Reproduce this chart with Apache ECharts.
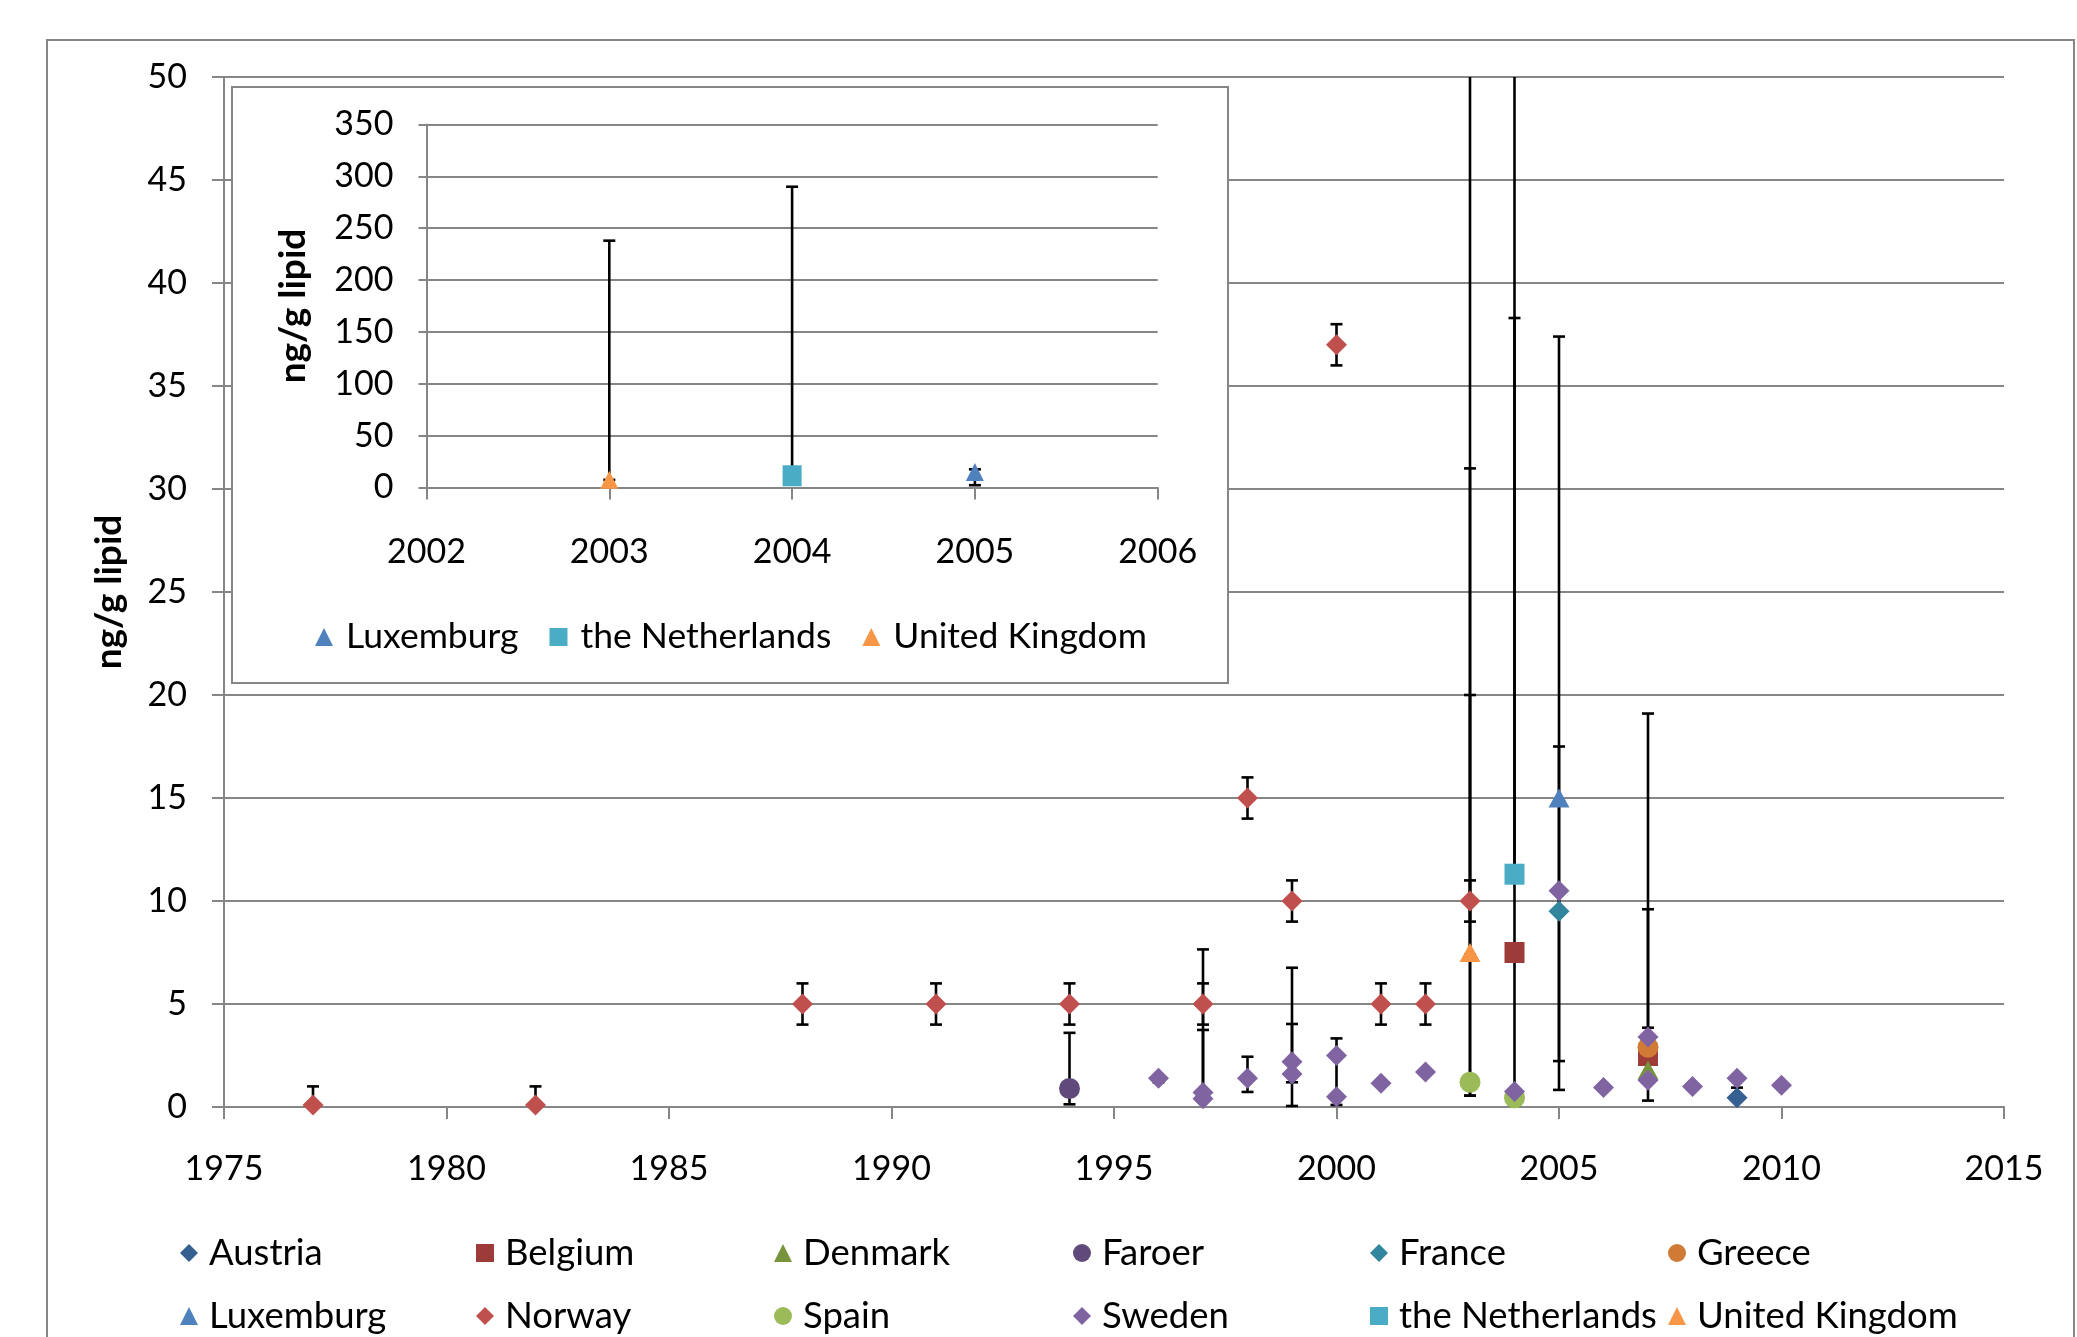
<!DOCTYPE html>
<html>
<head>
<meta charset="utf-8">
<title>ng/g lipid by country and year</title>
<script src="https://cdn.jsdelivr.net/npm/echarts@6/dist/echarts.min.js"></script>
<style>
  html, body { margin: 0; padding: 0; background: #ffffff; }
  #chart { width: 2077px; height: 1337px; }
</style>
</head>
<body>
<div id="chart"></div>
<script>
// Measured concentrations: [year, ng/g lipid]
const austria     = [[2009, 0.45]];
const belgium     = [[2004, 7.5], [2007, 2.5]];
const denmark     = [[2007, 1.8]];
const faroer      = [[1994, 0.9]];
const france      = [[2005, 9.5]];
const greece      = [[2007, 2.9]];
const luxemburg   = [[2005, 15]];
const norway      = [[1977, 0.1], [1982, 0.1], [1988, 5], [1991, 5], [1994, 5], [1997, 5],
                     [1998, 15], [1999, 10], [2000, 37], [2001, 5], [2002, 5], [2003, 10]];
const spain       = [[2003, 1.2], [2004, 0.45]];
const sweden      = [[1996, 1.4], [1997, 0.7], [1997, 0.4], [1998, 1.4], [1999, 2.2], [1999, 1.6],
                     [2000, 2.5], [2000, 0.5], [2001, 1.15], [2002, 1.7], [2004, 0.75], [2005, 10.5],
                     [2006, 0.95], [2007, 3.4], [2007, 1.3], [2008, 1.0], [2009, 1.4], [2010, 1.05]];
const netherlands = [[2004, 11.3]];
const unitedKingdom = [[2003, 7.5]];

// Ranges drawn as error bars: [year, low, high]
const errNorway = [[1977, 0.1, 1], [1982, 0.1, 1], [1988, 4, 6], [1991, 4, 6], [1994, 4, 6],
                   [1997, 4, 6], [1998, 14, 16], [1999, 9, 11], [2000, 36, 38], [2001, 4, 6],
                   [2002, 4, 6], [2003, 9, 11]];
const errFaroer = [[1994, 0.13, 3.6]];
const errSweden = [[1996, 1.2, 1.4], [1997, 0.7, 7.65], [1997, 0.34, 3.74], [1998, 0.73, 2.44],
                   [1999, 0.05, 6.76], [1999, 1.2, 4.03], [2000, 0.1, 3.33], [2007, 3.4, 3.85]];
const errSpain = [[2003, 0.55, 31], [2003, 0.55, 20]];
const errUnitedKingdom = [[2003, 7.4, 238]];
const errNetherlands = [[2004, 11.3, 290]];
const errBelgium = [[2004, 0.7, 38.3], [2007, 0.31, 19.1]];
const errLuxemburg = [[2005, 2.23, 17.5]];
const errFrance = [[2005, 0.83, 37.4]];
const errGreece = [[2007, 2.9, 9.6]];
const errAustria = [[2009, 0.45, 0.94]];

// Axis settings
const mainYears = { min: 1975, max: 2015, step: 5 };
const mainValues = { min: 0, max: 50, step: 5 };
const insetYears = { min: 2002, max: 2006, step: 1 };
const insetValues = { min: 0, max: 350, step: 50 };
const axisTitle = 'ng/g lipid';

const FONT = 'Lato';
const GRAY = '#868686';

const countries = [
  { name: 'Austria',         data: austria,       symbol: 'diamond',  color: '#376092' },
  { name: 'Belgium',         data: belgium,       symbol: 'rect',     color: '#9C3B38' },
  { name: 'Denmark',         data: denmark,       symbol: 'triangle', color: '#77933C' },
  { name: 'Faroer',          data: faroer,        symbol: 'circle',   color: '#604A7B' },
  { name: 'France',          data: france,        symbol: 'diamond',  color: '#31859C' },
  { name: 'Greece',          data: greece,        symbol: 'circle',   color: '#D07A35' },
  { name: 'Luxemburg',       data: luxemburg,     symbol: 'triangle', color: '#4F81BD' },
  { name: 'Norway',          data: norway,        symbol: 'diamond',  color: '#C0504D' },
  { name: 'Spain',           data: spain,         symbol: 'circle',   color: '#9BBB59' },
  { name: 'Sweden',          data: sweden,        symbol: 'diamond',  color: '#8064A2' },
  { name: 'the Netherlands', data: netherlands,   symbol: 'rect',     color: '#4BACC6' },
  { name: 'United Kingdom',  data: unitedKingdom, symbol: 'triangle', color: '#F79646' }
];

const mainErrors = [].concat(errNorway, errFaroer, errSweden, errSpain, errUnitedKingdom,
  errNetherlands, errBelgium, errLuxemburg, errFrance, errGreece, errAustria);
const insetErrors = [].concat(errUnitedKingdom, errNetherlands, errLuxemburg);
const insetNames = ['Luxemburg', 'the Netherlands', 'United Kingdom'];

// Vertical whisker with a short cap at each end, cut at the top of the plot area
function renderErrorBar(params, api) {
  const x = api.value(0);
  const lo = api.coord([x, api.value(1)]);
  const hi = api.coord([x, api.value(2)]);
  const top = params.coordSys.y;
  const bottom = params.coordSys.y + params.coordSys.height;
  const half = 6;
  const style = { stroke: '#000000', lineWidth: 2.6 };
  const children = [];
  const yHi = Math.max(hi[1], top);
  const yLo = Math.min(lo[1], bottom);
  children.push({ type: 'line', shape: { x1: lo[0], y1: yLo, x2: hi[0], y2: yHi }, style: style });
  if (hi[1] >= top) {
    children.push({ type: 'line', shape: { x1: hi[0] - half, y1: hi[1], x2: hi[0] + half, y2: hi[1] }, style: style });
  }
  if (lo[1] <= bottom) {
    children.push({ type: 'line', shape: { x1: lo[0] - half, y1: lo[1], x2: lo[0] + half, y2: lo[1] }, style: style });
  }
  return { type: 'group', children: children };
}

const labelStyle = { color: '#000000', fontFamily: FONT, fontSize: 34 };
const plainNumber = function (v) { return String(v); };

function valueAxis(range, extra) {
  return Object.assign({
    type: 'value', min: range.min, max: range.max, interval: range.step,
    axisLine: { show: true, lineStyle: { color: GRAY, width: 2 } },
    axisTick: { show: true, length: 12, lineStyle: { color: GRAY, width: 2 } },
    splitLine: { show: true, lineStyle: { color: GRAY, width: 2 } },
    axisLabel: Object.assign({ margin: 37, formatter: plainNumber }, labelStyle),
    nameTextStyle: { color: '#000000', fontFamily: FONT, fontSize: 37, fontWeight: 'bold' },
    name: axisTitle, nameLocation: 'middle', nameRotate: 90
  }, extra);
}

function yearAxis(range, extra) {
  return Object.assign({
    type: 'value', min: range.min, max: range.max, interval: range.step,
    axisLine: { show: true, onZero: false, lineStyle: { color: GRAY, width: 2 } },
    axisTick: { show: true, length: 12, lineStyle: { color: GRAY, width: 2 } },
    splitLine: { show: false },
    axisLabel: Object.assign({ margin: 45, formatter: plainNumber }, labelStyle)
  }, extra);
}

const series = [];
series.push({
  type: 'custom', name: 'errors-main', xAxisIndex: 0, yAxisIndex: 0,
  renderItem: renderErrorBar, data: mainErrors, z: 3, silent: true,
  encode: { x: 0, y: [1, 2] }
});
countries.forEach(function (c, i) {
  series.push({
    type: 'scatter', name: c.name, xAxisIndex: 0, yAxisIndex: 0,
    data: c.data, symbol: c.symbol,
    symbolSize: c.symbol === 'triangle' ? [21, 19] : (c.symbol === 'rect' ? [20, 21] : 21),
    itemStyle: { color: c.color, opacity: 1 }, z: 4 + i * 0.01
  });
});
series.push({
  type: 'custom', name: 'errors-inset', xAxisIndex: 1, yAxisIndex: 1,
  renderItem: renderErrorBar, data: insetErrors, z: 8, silent: true,
  encode: { x: 0, y: [1, 2] }
});
insetNames.forEach(function (n, i) {
  const c = countries.find(function (d) { return d.name === n; });
  series.push({
    type: 'scatter', name: c.name, xAxisIndex: 1, yAxisIndex: 1,
    data: c.data, symbol: c.symbol,
    symbolSize: c.symbol === 'triangle' ? [18, 18] : [19, 21],
    itemStyle: { color: c.color, opacity: 1 }, z: 9 + i * 0.01
  });
});

// Legend columns of two rows each
const legendColumns = [
  ['Austria', 'Luxemburg'], ['Belgium', 'Norway'], ['Denmark', 'Spain'],
  ['Faroer', 'Sweden'], ['France', 'the Netherlands'], ['Greece', 'United Kingdom']
];
const columnLeft = [180, 476, 774, 1073, 1370, 1668];
const legends = legendColumns.map(function (names, i) {
  return {
    orient: 'vertical', left: columnLeft[i], top: 1233, padding: 0,
    itemWidth: 18, itemHeight: 18, itemGap: 23,
    data: names.map(function (n) { return { name: n }; }),
    textStyle: { color: '#000000', fontFamily: FONT, fontSize: 36.5, lineHeight: 40, padding: [0, 0, 0, 6] },
    selectedMode: false
  };
});
legends.push({
  orient: 'horizontal', left: 315, top: 617, padding: 0,
  itemWidth: 18, itemHeight: 18, itemGap: 31,
  data: insetNames.map(function (n) { return { name: n }; }),
  textStyle: { color: '#000000', fontFamily: FONT, fontSize: 35.5, lineHeight: 40, padding: [0, 0, 0, 8] },
  selectedMode: false
});

const chart = echarts.init(document.getElementById('chart'), null, { renderer: 'canvas' });
chart.setOption({
  backgroundColor: '#ffffff',
  animation: false,
  textStyle: { fontFamily: FONT },
  grid: [
    { left: 224, right: 73, top: 77, bottom: 230 },
    { left: 426.5, right: 919.3, top: 124.5, bottom: 849.5 }
  ],
  xAxis: [
    yearAxis(mainYears, { gridIndex: 0, z: 0 }),
    yearAxis(insetYears, { gridIndex: 1, z: 5, axisLabel: Object.assign({ margin: 48, formatter: plainNumber }, labelStyle) })
  ],
  yAxis: [
    valueAxis(mainValues, { gridIndex: 0, z: 0, nameGap: 96 }),
    valueAxis(insetValues, { gridIndex: 1, z: 5, nameGap: 115,
      axisTick: { show: true, length: 8, lineStyle: { color: GRAY, width: 2 } },
      axisLabel: Object.assign({ margin: 33, formatter: plainNumber }, labelStyle) })
  ],
  legend: legends,
  graphic: [
    { type: 'rect', z: -1, silent: true, shape: { x: 47, y: 40, width: 2027, height: 1320 },
      style: { fill: 'none', stroke: GRAY, lineWidth: 2 } },
    { type: 'rect', z: 1, silent: true, shape: { x: 232, y: 87, width: 996, height: 596 },
      style: { fill: '#ffffff', stroke: GRAY, lineWidth: 2 } }
  ],
  series: series
});
</script>
</body>
</html>
